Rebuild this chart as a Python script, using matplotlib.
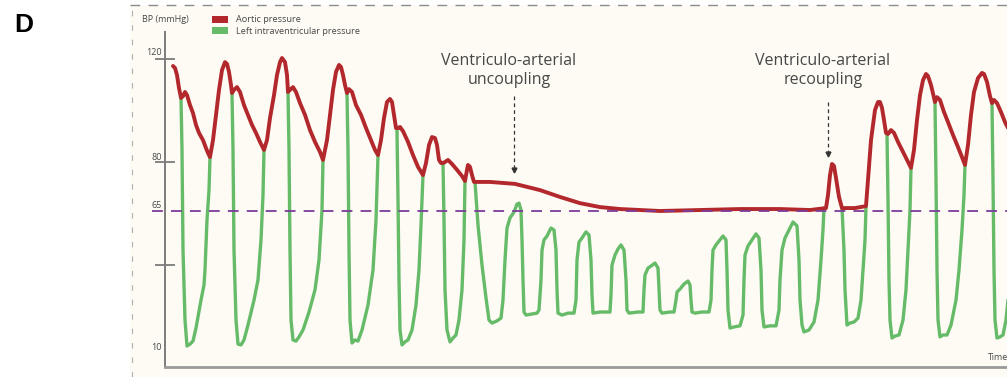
import numpy as np
import matplotlib
matplotlib.use("Agg")
import matplotlib.pyplot as plt
from matplotlib.patches import Rectangle
from matplotlib.lines import Line2D

# ---------------------------------------------------------------------------
# Aortic pressure trace (time in arbitrary units, pressure in mmHg)
aortic_t = [173, 175, 177, 179, 181, 183, 185, 187, 190, 193, 196, 199, 203, 206, 208, 210,
            213, 216, 219, 222, 225, 227, 229, 231, 232, 234, 237, 240, 244, 248, 252, 256, 260, 264,
            267, 270, 274, 277, 280, 282, 285, 287, 288, 290, 293, 296, 300, 305, 310, 315, 320, 323,
            327, 330, 333, 336, 339, 341, 343, 345, 347, 349, 352, 356, 361, 366, 371, 375, 378,
            381, 384, 387, 390, 392, 394, 396, 398, 400, 403, 408, 413, 418, 423,
            426, 429, 432, 435, 437, 439, 441, 443, 445, 448, 452, 457, 462, 465,
            467, 468, 470, 472, 474, 490, 515, 540, 560, 580, 600, 620, 640, 660, 700, 740, 780, 810,
            826, 828, 830, 832, 834, 836, 839, 842, 855, 866,
            868, 871, 875, 878, 880, 882, 884, 886, 888, 891, 894, 898, 903, 908, 911,
            914, 917, 920, 923, 926, 928, 931, 934, 935, 937, 940, 944, 948, 953, 958, 962, 965,
            968, 971, 974, 978, 982, 984, 987, 990, 992, 994, 997, 1001, 1005, 1010]
aortic_p = [117.3, 116.5, 113.8, 108.7, 104.9, 105.6, 107.2, 106.0, 102.1, 99.0, 94.4, 91.3, 88.5, 85.4, 83.5, 81.9,
            88.5, 98.3, 108.0, 115.7, 118.8, 118.1, 115.0, 109.9, 106.8, 108.0, 109.1, 107.2, 102.1, 98.3, 94.4, 91.3, 87.8, 84.7,
            88.5, 97.1, 106.0, 113.8, 118.8, 120.4, 118.8, 113.8, 107.2, 108.0, 109.1, 107.2, 102.9, 98.3, 92.4, 87.8, 83.9, 80.8,
            88.5, 98.3, 108.0, 115.0, 117.7, 116.9, 113.8, 109.9, 106.8, 108.3, 107.2, 102.1, 98.3, 93.2, 88.5, 84.7, 82.7,
            88.5, 97.1, 103.3, 104.5, 103.3, 98.3, 93.2, 93.2, 93.6, 92.0, 87.8, 82.7, 78.5, 76.0,
            79.7, 86.6, 89.7, 89.3, 86.6, 80.8, 79.7, 79.7, 80.0, 80.8, 79.4, 77.6, 75.7, 74.2,
            77.6, 79.1, 78.5, 76.0, 73.9, 73.9, 73.3, 71.4, 69.3, 67.4, 66.2, 65.6, 65.3, 65.0, 65.3, 65.6, 65.6, 65.3,
            65.9, 69.9, 76.0, 79.4, 78.8, 75.1, 69.3, 65.9, 65.9, 66.5,
            74.5, 88.5, 100.2, 103.3, 103.3, 101.0, 96.3, 91.3, 90.9, 92.4, 91.3, 87.8, 83.9, 80.0, 78.2,
            84.7, 96.3, 106.0, 111.8, 114.2, 113.4, 109.9, 104.9, 103.3, 105.2, 104.1, 99.4, 95.5, 90.5, 85.8, 81.9, 79.1,
            86.6, 98.3, 107.2, 112.6, 114.6, 114.2, 111.1, 105.6, 102.9, 104.1, 102.9, 99.4, 95.5, 91.7]

# Left intraventricular pressure trace; None separates the beats whose
# ejection phase is hidden beneath the aortic curve
lv_t = [181, 182, 183, 185, 187, 190, 193, 196, 201, 204, 205, 207, 209, 210, None,
        232, 233, 234, 236, 238, 241, 244, 248, 254, 258, 261, 263, 264, None,
        288, 289, 290, 291, 293, 296, 299, 303, 309, 315, 319, 322, 323, None,
        347, 348, 349, 350, 352, 355, 358, 362, 368, 373, 376, 378, None,
        397, 398, 399, 400, 402, 405, 408, 412, 416, 419, 421, 423, None,
        443, 444, 445, 447, 450, 453, 456, 459, 462, 464, 465, None,
        475, 478, 482, 486, 489, 492, 497, 501, 503, 505, 507, 510, 514, 517, 519, 521, 522, 523, 524,
        526, 532, 537, 539, 541, 542, 544, 547, 551, 554, 556, 557, 558,
        562, 568, 574, 576, 577, 579, 582, 586, 589, 591, 592, 593,
        600, 610, 611, 612, 615, 618, 621, 624, 626, 627, 629,
        638, 643, 644, 645, 648, 651, 655, 658, 659, 660, 662,
        670, 674, 676, 677, 680, 684, 688, 690, 691, 692, 695,
        702, 709, 711, 712, 713, 716, 719, 723, 726, 727, 728, 730,
        734, 740, 743, 744, 745, 748, 752, 756, 759, 761, 762, 764,
        770, 776, 779, 780, 782, 785, 789, 793, 797, 799, 800, 802, 804,
        809, 814, 818, 821, 823, 824, None,
        842, 844, 845, 847, 850, 854, 858, 861, 863, 865, 866, None,
        887, 888, 889, 890, 892, 895, 899, 903, 906, 908, 910, 911, None,
        935, 936, 937, 938, 940, 943, 947, 951, 956, 959, 962, 964, 965, None,
        992, 993, 994, 995, 997, 1000, 1003, 1006, 1009, 1012]
lv_p = [104.9, 84.7, 46.9, 20.1, 10.7, 11.4, 12.5, 17.2, 27.3, 32.8, 38.2, 60.8, 71.4, 81.9, None,
        106.8, 84.7, 46.9, 20.1, 11.4, 11.1, 12.9, 18.3, 27.3, 34.6, 51.6, 69.9, 84.7, None,
        107.2, 84.7, 46.9, 20.1, 12.9, 12.5, 14.0, 16.5, 23.0, 31.0, 42.3, 65.3, 80.8, None,
        106.8, 84.7, 46.9, 20.1, 11.8, 12.9, 12.5, 16.5, 25.5, 38.2, 60.8, 82.7, None,
        92.4, 68.4, 34.6, 16.5, 11.1, 12.2, 12.9, 16.5, 25.5, 38.2, 58.5, 76.0, None,
        79.7, 60.8, 31.0, 16.5, 12.2, 13.6, 14.7, 20.1, 31.0, 51.6, 74.2, None,
        73.9, 58.5, 40.0, 28.1, 20.1, 19.0, 19.8, 20.8, 27.3, 42.3, 57.1, 61.8, 64.5, 67.1, 67.4, 65.3, 51.6, 34.6, 23.0,
        21.9, 22.3, 22.6, 23.7, 34.6, 46.9, 51.6, 53.4, 57.1, 56.2, 46.9, 31.0, 22.6,
        21.9, 22.6, 22.6, 27.3, 42.3, 50.6, 52.5, 55.3, 53.9, 42.3, 29.2, 22.6,
        23.0, 23.0, 29.2, 40.0, 44.6, 47.4, 49.3, 46.9, 34.6, 23.7, 22.6,
        23.0, 23.0, 31.0, 36.4, 38.9, 39.6, 40.9, 38.9, 31.0, 23.7, 22.6,
        23.0, 23.0, 27.3, 30.2, 31.3, 33.1, 34.2, 32.8, 27.3, 23.0, 22.6,
        23.0, 23.0, 27.3, 38.2, 46.9, 49.3, 51.1, 53.4, 51.6, 38.2, 23.7, 17.2,
        17.6, 18.0, 21.9, 34.6, 44.6, 48.8, 51.6, 54.4, 52.5, 38.2, 23.7, 17.6,
        18.0, 18.0, 23.7, 34.6, 46.9, 52.5, 56.2, 59.9, 58.1, 42.3, 27.3, 18.3, 15.8,
        16.5, 19.4, 27.3, 42.3, 56.2, 65.9, None,
        65.9, 46.9, 31.0, 18.3, 19.0, 19.4, 20.8, 27.3, 38.2, 51.6, 66.2, None,
        90.9, 68.4, 34.6, 20.1, 13.6, 14.3, 14.7, 20.1, 31.0, 46.9, 65.3, 78.2, None,
        103.3, 74.5, 38.2, 20.1, 14.0, 14.7, 14.7, 18.3, 27.3, 38.2, 56.2, 69.9, 79.1, None,
        102.9, 74.5, 38.2, 20.1, 13.6, 14.0, 14.7, 20.1, 31.0, 46.9]

threshold = 65                      # mmHg reference line
labelled_ticks = [120, 80, 65, 10]  # values written on the pressure axis
tick_marks = [120, 80, 40]          # values carrying a tick mark
events = {"Ventriculo-arterial\nuncoupling": 514,
          "Ventriculo-arterial\nrecoupling": 828}

# ---------------------------------------------------------------------------
RED = "#b3282c"
GREEN = "#66bb69"
PURPLE = "#7b3c9c"
CREAM = "#fdfbf3"
AXIS = "#7c7c7c"
TEXT = "#474747"
FONT = ["Open Sans", "DejaVu Sans"]

W, H = 1007, 377
fig = plt.figure(figsize=(W / 100, H / 100), dpi=100)
fig.patch.set_facecolor("white")


def fx(px):
    return px / W


def fy(py):
    return 1 - py / H


# panel background with a dashed border on top and left
fig.patches.append(Rectangle((fx(130), 0), 1 - fx(130), fy(5), transform=fig.transFigure,
                             facecolor=CREAM, edgecolor="none", zorder=-5))
fig.add_artist(Line2D([fx(130), 1], [fy(5), fy(5)], transform=fig.transFigure,
                      color="#8c8c8c", lw=1.0, ls=(0, (7, 6)), zorder=-4))
fig.add_artist(Line2D([fx(132), fx(132)], [0, fy(5)], transform=fig.transFigure,
                      color="#b0b0b0", lw=0.8, ls=(0, (5, 8)), zorder=-4))

ax = fig.add_axes([fx(165), fy(367), 1 - fx(165), (367 - 32) / H])
ax.set_facecolor("none")
ax.set_zorder(2)

# non-uniform pressure axis, as drawn in the schematic
knot_v = np.array([0, 10, 40, 65, 80, 120, 140], dtype=float)
knot_s = -np.array([375.7, 348, 265, 211, 162, 59, 7.5])


def fwd(v):
    return np.interp(v, knot_v, knot_s)


def inv(s):
    return np.interp(s, knot_s, knot_v)


ax.set_yscale("function", functions=(fwd, inv))
ax.set_xlim(165, 1007)
ax.set_ylim(3.13, 130.5)

lv_t_arr = np.array([np.nan if v is None else v for v in lv_t], dtype=float)
lv_p_arr = np.array([np.nan if v is None else v for v in lv_p], dtype=float)

ax.plot(lv_t_arr, lv_p_arr, color=GREEN, lw=2.4, solid_joinstyle="round",
        solid_capstyle="round", zorder=3)
ax.plot(aortic_t, aortic_p, color=RED, lw=2.8, solid_joinstyle="round",
        solid_capstyle="round", zorder=4)

# 65 mmHg reference line, starting a little left of the axis
ax.plot([152, 1007], [threshold, threshold], color=PURPLE, lw=1.3,
        ls=(0, (6, 4.5)), zorder=5, clip_on=False)

# axis styling
for side in ("top", "right"):
    ax.spines[side].set_visible(False)
ax.spines["left"].set_color(AXIS)
ax.spines["left"].set_linewidth(1.4)
ax.spines["bottom"].set_color("#9a9a9a")
ax.spines["bottom"].set_linewidth(2.0)
ax.set_xticks([])
ax.set_yticks(tick_marks)
ax.set_yticklabels([])
ax.yaxis.set_minor_locator(matplotlib.ticker.NullLocator())
ax.tick_params(axis="y", direction="inout", length=14, width=1.3, color=AXIS)

label_y = {120: 122.7, 80: 81.9, 65: 66.8, 10: 10.0}
for v in labelled_ticks:
    ax.text(-0.0036, label_y[v], str(v), transform=ax.get_yaxis_transform(),
            ha="right", va="center", fontsize=6.5, color=TEXT, family=FONT)

# event annotations with dashed arrows
for label, t in events.items():
    ax.text(t - 5, 115.7, label, ha="center", va="center", fontsize=11.5,
            color=TEXT, family=FONT, linespacing=1.26)
    top, tip = (105.6, 77.6) if "uncoupling" in label else (103.3, 83.3)
    ax.plot([t, t], [top, tip], color="#333333", lw=0.9, ls=(0, (3, 2.5)), zorder=6)
    ax.plot([t], [tip], marker="v", ms=3.5, color="#333333", zorder=6)

ax.text(988, 6.6, "Time", ha="left", va="center", fontsize=6.3, color=TEXT,
        family=FONT, clip_on=False)

# header: axis title and legend
fig.text(fx(142), fy(19), "BP (mmHg)", ha="left", va="center", fontsize=6.5,
         color=TEXT, family=FONT)
fig.patches.append(Rectangle((fx(212), fy(23)), fx(16), 7 / H, transform=fig.transFigure,
                             facecolor=RED, edgecolor="none"))
fig.patches.append(Rectangle((fx(212), fy(34)), fx(16), 7 / H, transform=fig.transFigure,
                             facecolor=GREEN, edgecolor="none"))
fig.text(fx(236), fy(19), "Aortic pressure", ha="left", va="center", fontsize=6.6,
         color=TEXT, family=FONT)
fig.text(fx(236), fy(31), "Left intraventricular pressure", ha="left", va="center",
         fontsize=6.6, color=TEXT, family=FONT)

fig.text(fx(23.5), fy(25), "D", ha="center", va="center", fontsize=19,
         fontweight="bold", color="black", family=["Liberation Sans", "DejaVu Sans"])

fig.savefig("out.png", dpi=100, facecolor="white")
